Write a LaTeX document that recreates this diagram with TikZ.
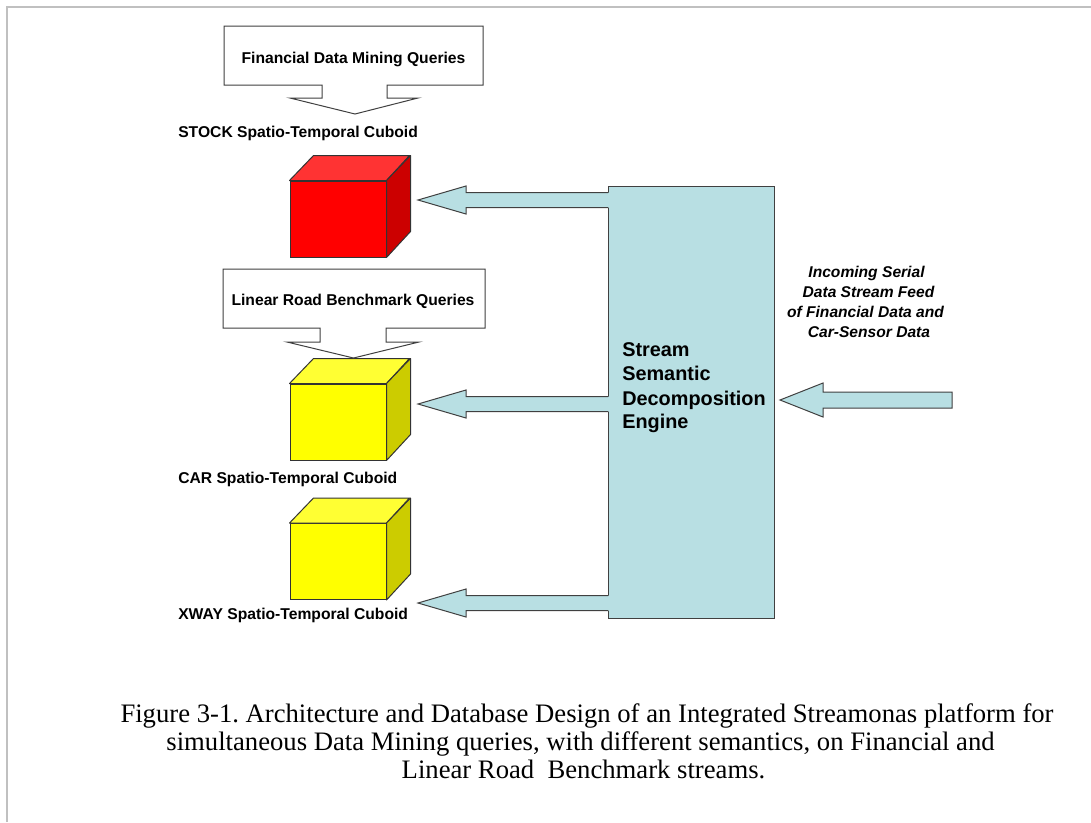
\documentclass[tikz,border=0pt]{standalone}
\usepackage{fontspec}
\setmainfont{Liberation Serif}
\newfontfamily\arialfont{Liberation Sans}
\frenchspacing
\definecolor{engfill}{HTML}{B8DFE3}
\definecolor{edgegray}{HTML}{404040}
\definecolor{framegray}{HTML}{C0C0C0}
\definecolor{redfront}{HTML}{FF0000}
\definecolor{redtop}{HTML}{FF3333}
\definecolor{redside}{HTML}{CC0000}
\definecolor{yelfront}{HTML}{FFFF00}
\definecolor{yeltop}{HTML}{FFFF33}
\definecolor{yelside}{HTML}{CCCC00}
\tikzset{
  outl/.style={draw=edgegray, line width=0.75pt, line join=miter},
  lbl/.style={font=\arialfont\bfseries\fontsize{11.75}{14}\selectfont, inner sep=0pt, anchor=base west},
  qlbl/.style={font=\arialfont\bfseries\fontsize{11.75}{14}\selectfont, inner sep=0pt, anchor=base},
  englbl/.style={font=\arialfont\bfseries\fontsize{14.9}{18}\selectfont, inner sep=0pt, anchor=base west},
  inlbl/.style={font=\arialfont\bfseries\itshape\fontsize{11.7}{14}\selectfont, inner sep=0pt, anchor=base},
  caplbl/.style={font=\fontsize{20}{21}\selectfont, inner sep=0pt, anchor=base},
  cubefront/.style={draw=black!80, line width=0.75pt, minimum width=72pt, minimum height=57pt, inner sep=0pt},
  cubeedge/.style={draw=black!80, line width=0.75pt, line join=round},
  enginebox/.style={outl, fill=engfill, minimum width=124.5pt, minimum height=324pt, inner sep=0pt},
}
\newcommand{\mycube}[6]{%
  \node[cubefront, fill=#4] (#1) at (#2,#3) {};
  \draw[cubeedge, fill=#5] (#1.north west) -- ++(24,-25) -- ++(96,0) -- (#1.north east) -- cycle;
  \draw[cubeedge, fill=#6] (#1.north east) -- ++(24,-25) -- ++(0,76) -- (#1.south east) -- cycle;
}
\newcommand{\leftarr}[1]{%
  \fill[engfill] (609.2,#1-7.5) -- (466,#1-7.5) -- (466,#1-14) -- (418,#1) -- (466,#1+14) -- (466,#1+7.5) -- (609.2,#1+7.5) -- cycle;
  \draw[outl] (608,#1-7.5) -- (466,#1-7.5) -- (466,#1-14) -- (418,#1) -- (466,#1+14) -- (466,#1+7.5) -- (608,#1+7.5);
}
\begin{document}
\begin{tikzpicture}[x=0.75pt,y=-0.75pt]
\useasboundingbox (0,0) rectangle (1091,822);
\fill[white] (0,0) rectangle (1091,822);
\draw[framegray, line width=1.5pt] (7,822) -- (7,7) -- (1091,7);

% cuboids
\mycube{stock}{338}{219}{redfront}{redtop}{redside}
\mycube{car}{338}{422}{yelfront}{yeltop}{yelside}
\mycube{xway}{338}{561.5}{yelfront}{yeltop}{yelside}

% query callouts
\draw[outl, fill=white] (224,26) -- (483,26) -- (483,85) -- (387,85) -- (387,98) -- (418,98) -- (355,114) -- (290,98) -- (322,98) -- (322,85) -- (224,85) -- cycle;
\node[qlbl] (fdmq) at (353.5,63) {Financial Data Mining Queries};
\draw[outl, fill=white] (223,269) -- (485,269) -- (485,328) -- (386,328) -- (386,342) -- (419,342) -- (353.5,358) -- (287,342) -- (320,342) -- (320,328) -- (223,328) -- cycle;
\node[qlbl] (lrbq) at (353,305.5) {Linear Road Benchmark Queries};

% labels
\node[lbl] (stocklbl) at (178,137.5) {STOCK Spatio-Temporal Cuboid};
\node[lbl] (carlbl) at (178,483.5) {CAR Spatio-Temporal Cuboid};
\node[lbl] (xwaylbl) at (178,619.5) {XWAY Spatio-Temporal Cuboid};

% engine
\node[enginebox] (engine) at (691,402) {};
\leftarr{200}
\leftarr{404}
\leftarr{603}
\node[englbl] (eng1) at (622,356) {Stream};
\node[englbl] (eng2) at (622,380) {Semantic};
\node[englbl] (eng3) at (622,405) {Decomposition};
\node[englbl] (eng4) at (622,428) {Engine};

% incoming
\draw[outl, fill=engfill] (952,392) -- (823,392) -- (823,383) -- (780,400) -- (823,417) -- (823,408) -- (952,408) -- cycle;
\node[inlbl] (in1) at (866.5,277) {Incoming Serial};
\node[inlbl] (in2) at (868.5,297) {Data Stream Feed};
\node[inlbl] (in3) at (865.5,317) {of Financial Data and};
\node[inlbl] (in4) at (869,337) {Car-Sensor Data};

% caption
\node[caplbl] (cap1) at (587,722) {Figure 3-1. Architecture and Database Design of an Integrated Streamonas platform for};
\node[caplbl] (cap2) at (580.5,750) {simultaneous Data Mining queries, with different semantics, on Financial and};
\node[caplbl] (cap3) at (583.5,778) {Linear Road\ \ Benchmark streams.};
\end{tikzpicture}
\end{document}
